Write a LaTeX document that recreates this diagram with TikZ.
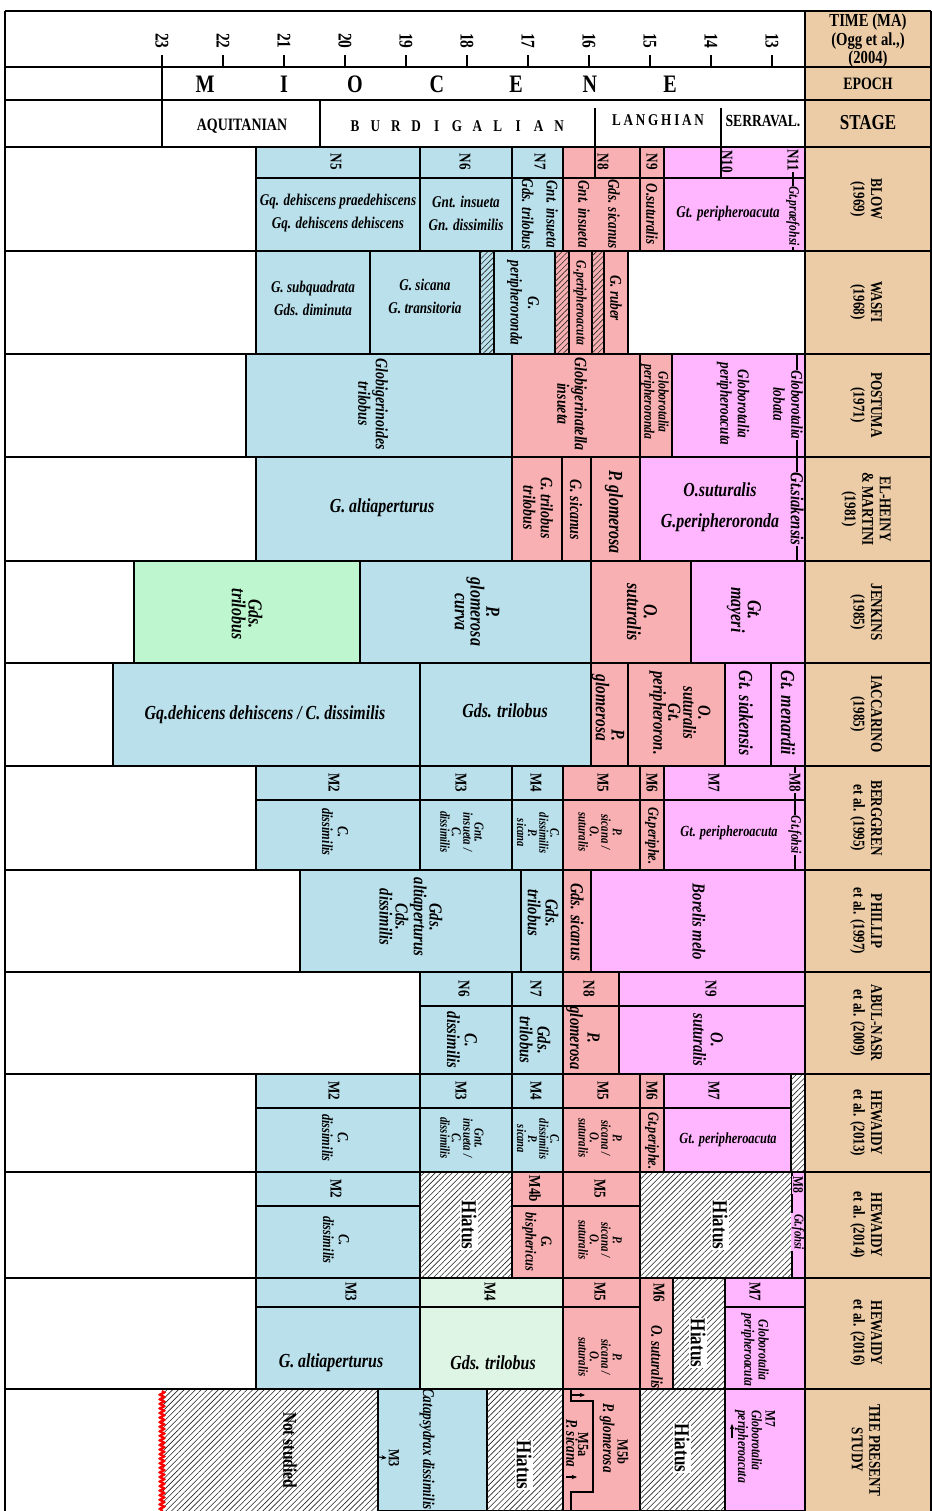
\documentclass[tikz,border=0pt]{standalone}
\usepackage{fontspec}
\setmainfont{Liberation Serif}[FakeStretch=0.8, Scale=1.1]
\usetikzlibrary{patterns.meta,decorations.pathmorphing,arrows.meta}

\definecolor{zblue}{RGB}{186,224,236}
\definecolor{zpink}{RGB}{248,176,178}
\definecolor{zmag}{RGB}{255,182,255}
\definecolor{zgreen}{RGB}{190,247,207}
\definecolor{zpale}{RGB}{222,244,228}
\definecolor{ztan}{RGB}{236,204,166}

\tikzset{
  cell/.style={draw=black, line width=0.8pt},
  hatch/.style={postaction={pattern={Lines[angle=45,distance=2.3pt,line width=0.35pt]}, pattern color=black!85}},
  sp/.style={font=\bfseries\itshape\fontsize{8.5}{10}\selectfont, align=center, inner sep=1pt},
  vsp/.style={sp, rotate=-90},
  big/.style={font=\bfseries\itshape\fontsize{10.3}{12}\selectfont, align=center, inner sep=1pt},
  vbig/.style={big, rotate=-90},
  sml/.style={font=\bfseries\itshape\fontsize{7.5}{8}\selectfont, align=center, inner sep=1pt},
  vsml/.style={sml, rotate=-90},
  zone/.style={font=\bfseries\fontsize{8.5}{9}\selectfont, rotate=-90, inner sep=1pt},
  hiatus/.style={font=\bfseries\fontsize{11}{12}\selectfont, rotate=-90, fill=white, inner sep=0.6pt},
  reflbl/.style={font=\bfseries\fontsize{8.5}{10}\selectfont, rotate=-90, align=center},
  head/.style={font=\bfseries\fontsize{9.5}{9.5}\selectfont, align=center},
  ticknum/.style={font=\bfseries\fontsize{10}{10}\selectfont, rotate=-90},
  epochltr/.style={font=\bfseries\fontsize{13}{13}\selectfont},
  stagelbl/.style={font=\bfseries\fontsize{8.5}{9}\selectfont},
  onmark/.style={fill=zmag, inner sep=0.4pt},
  arr/.style={-{Stealth[length=3pt,width=2.5pt]}, line width=0.6pt},
}

\begin{document}
\begin{tikzpicture}[x=0.02cm, y=-0.02cm]
\useasboundingbox (0,0) rectangle (932,1511);
\fill[ztan] (805,11) rectangle (931,1511);

% time scale, epoch, stage
\foreach \t [evaluate=\t as \xx using {162+(23-\t)*61}] in {23,22,...,13}{
  \draw[cell] (\xx,55) -- (\xx,67);
  \node[ticknum] (t\t) at (\xx,41) {\t};
}
\draw[cell] (162,55) -- (162,147);
\foreach \l/\xx [count=\i] in {M/205,I/284,O/355,C/437,E/516,N/590,E/670}
  \node[epochltr] (ep\i) at (\xx,84) {\l};
\draw[cell] (320,100) -- (320,147);
\draw[cell] (595,108) -- (595,147);
\draw[cell] (721,108) -- (721,147);
\node[stagelbl, font=\bfseries\fontsize{9}{9}\selectfont] (aqui) at (242,126) {AQUITANIAN};
\foreach \l [count=\i] in {B,U,R,D,I,G,A,L,I,A,N}
  \node[stagelbl] (bur\i) at ({355+(\i-1)*20.4},126) {\l};
\node[stagelbl] (lang) at (658,120) {L\kern1.6pt A\kern1.6pt N\kern1.6pt G\kern1.6pt H\kern1.6pt I\kern1.6pt A\kern1.6pt N};
\node[stagelbl, font=\bfseries\fontsize{8.8}{9}\selectfont] (serr) at (763,121) {SERRAVAL.};

% BLOW (1969)
\draw[cell,fill=zblue] (256,147) rectangle (420,178);
\draw[cell,fill=zblue] (420,147) rectangle (512,178);
\draw[cell,fill=zblue] (512,147) rectangle (563,178);
\draw[cell,fill=zpink] (563,147) rectangle (595,178);
\draw[cell,fill=zpink] (595,147) rectangle (640,178);
\draw[cell,fill=zpink] (640,147) rectangle (664,178);
\draw[cell,fill=zmag] (664,147) rectangle (721,178);
\draw[cell,fill=zmag] (721,147) rectangle (805,178);
\draw[cell,fill=zblue] (256,178) rectangle (420,251);
\draw[cell,fill=zblue] (420,178) rectangle (512,251);
\draw[cell,fill=zblue] (512,178) rectangle (563,251);
\draw[cell,fill=zpink] (563,178) rectangle (640,251);
\draw[cell,fill=zpink] (640,178) rectangle (664,251);
\draw[cell,fill=zmag] (664,178) rectangle (805,251);
\draw[cell] (793,147) -- (793,251);
\node[zone] (bn5) at (336,162) {N5};
\node[zone] (bn6) at (465,162) {N6};
\node[zone] (bn7) at (540,162) {N7};
\node[zone] (bn8) at (603,162) {N8};
\node[zone] (bn9) at (652,162) {N9};
\node[zone, anchor=west] (bn10) at (727,148) {N10};
\node[zone, onmark, anchor=west] (bn11) at (793,148) {N11};
\node[sp, font=\bfseries\itshape\fontsize{8.5}{13}\selectfont] (bdehi) at (338,213) {Gq. dehiscens praedehiscens\\Gq. dehiscens dehiscens};
\node[sp, font=\bfseries\itshape\fontsize{8.5}{13}\selectfont] (binsu) at (466,213) {Gnt. insueta\\Gn. dissimilis};
\node[vsp, font=\bfseries\itshape\fontsize{8.5}{14}\selectfont] (bn7sp) at (540,214) {Gnt. insueta\\Gds. trilobus};
\node[vsp] (bn8a) at (584,214) {Gnt. insueta};
\node[vsp] (bn8b) at (614,214) {Gds. sicanus};
\node[vsp] (bn9sp) at (652,214) {O.suturalis};
\node[sp] (bperi) at (728,214) {Gt. peripheroacuta};
\node[vsml, onmark] (bprae) at (793,216) {Gt.praefohsi};

% WASFI (1968)
\draw[cell,fill=zblue] (256,251) rectangle (370,354);
\draw[cell,fill=zblue] (370,251) rectangle (480,354);
\draw[cell,fill=zblue,hatch] (480,251) rectangle (494,354);
\draw[cell,fill=zblue] (494,251) rectangle (555,354);
\draw[cell,fill=zpink,hatch] (555,251) rectangle (569,354);
\draw[cell,fill=zpink] (569,251) rectangle (592,354);
\draw[cell,fill=zpink,hatch] (592,251) rectangle (604,354);
\draw[cell,fill=zpink] (604,251) rectangle (628,354);
\node[sp, font=\bfseries\itshape\fontsize{8.5}{13}\selectfont] (wsubq) at (313,298) {G. subquadrata\\Gds. diminuta};
\node[sp, font=\bfseries\itshape\fontsize{8.5}{13}\selectfont] (wsica) at (425,296) {G. sicana\\G. transitoria};
\node[vsp] (wrond) at (523,303) {G.\\peripheroronda};
\node[vsml] (wacut) at (580,303) {G.peripheroacuta};
\node[vsp] (wrube) at (616,298) {G. ruber};

% POSTUMA (1971)
\draw[cell,fill=zblue] (246,354) rectangle (512,457);
\draw[cell,fill=zpink] (512,354) rectangle (640,457);
\draw[cell,fill=zpink] (640,354) rectangle (672,457);
\draw[cell,fill=zmag] (672,354) rectangle (805,457);
\draw[cell] (797,354) -- (797,457);
\node[vsp, font=\bfseries\itshape\fontsize{9}{10}\selectfont] (pgtri) at (373,404) {Globigerinoides\\trilobus};
\node[vsp, font=\bfseries\itshape\fontsize{9}{10}\selectfont] (pgins) at (572,404) {Globigerinatella\\insueta};
\node[vsml] (prond) at (655,402) {Globorotalia\\peripheroronda};
\node[vsp] (pacut) at (733,404) {Globorotalia\\peripheroacuta};
\node[vsp] (plob) at (779,404) {lobata};
\node[vsp, onmark] (pglob) at (797,405) {Globorotalia};

% EL-HEINY & MARTINI (1981)
\draw[cell,fill=zblue] (256,457) rectangle (512,561);
\draw[cell,fill=zpink] (512,457) rectangle (562,561);
\draw[cell,fill=zpink] (562,457) rectangle (591,561);
\draw[cell,fill=zpink] (591,457) rectangle (640,561);
\draw[cell,fill=zmag] (640,457) rectangle (805,561);
\draw[cell] (797,457) -- (797,561);
\node[big] (ealti) at (382,508) {G. altiaperturus};
\node[vsp, font=\bfseries\itshape\fontsize{9}{10}\selectfont] (etrtr) at (538,508) {G. trilobus\\trilobus};
\node[vsp, font=\bfseries\itshape\fontsize{9}{10}\selectfont] (esica) at (576,510) {G. sicanus};
\node[vbig] (eglom) at (614,512) {P. glomerosa};
\node[big, font=\bfseries\itshape\fontsize{10.3}{17.5}\selectfont] (esutu) at (720,507) {O.suturalis\\G.peripheroronda};
\node[vsp, onmark, font=\bfseries\itshape\fontsize{9.5}{10}\selectfont] (esiak) at (797,509) {Gt.siakensis};

% JENKINS (1985)
\draw[cell,fill=zgreen] (134,561) rectangle (360,663);
\draw[cell,fill=zblue] (360,561) rectangle (591,663);
\draw[cell,fill=zpink] (591,561) rectangle (691,663);
\draw[cell,fill=zmag] (691,561) rectangle (805,663);
\node[vbig, font=\bfseries\itshape\fontsize{10.3}{9.5}\selectfont] (jtril) at (247,614) {Gds.\\trilobus};
\node[vbig, font=\bfseries\itshape\fontsize{10.3}{9}\selectfont] (jglom) at (477,612) {P.\\glomerosa\\curva};
\node[vbig, font=\bfseries\itshape\fontsize{10.3}{9.5}\selectfont] (jsutu) at (642,612) {O.\\suturalis};
\node[vbig, font=\bfseries\itshape\fontsize{10.3}{9.5}\selectfont] (jmaye) at (744,610) {Gt.\\mayeri};

% IACCARINO (1985)
\draw[cell,fill=zblue] (113,663) rectangle (420,766);
\draw[cell,fill=zblue] (420,663) rectangle (591,766);
\draw[cell,fill=zpink] (591,663) rectangle (628,766);
\draw[cell,fill=zpink] (628,663) rectangle (725,766);
\draw[cell,fill=zmag] (725,663) rectangle (771,766);
\draw[cell,fill=zmag] (771,663) rectangle (805,766);
\node[big] (idehi) at (265,715) {Gq.dehicens dehiscens / C. dissimilis};
\node[big] (itril) at (505,711) {Gds. trilobus};
\node[vbig, align=right, font=\bfseries\itshape\fontsize{10}{9}\selectfont] (iglom) at (608,708) {P.\\glomerosa};
\node[vbig, font=\bfseries\itshape\fontsize{9.5}{8.5}\selectfont] (isutu) at (680,713) {O.\\suturalis\\Gt.\\peripheroron.};
\node[vbig] (isiak) at (746,713) {Gt. siakensis};
\node[vbig] (imena) at (788,713) {Gt. menardii};

% BERGGREN et al. (1995)
\draw[cell,fill=zblue] (256,766) rectangle (420,800);
\draw[cell,fill=zblue] (420,766) rectangle (512,800);
\draw[cell,fill=zblue] (512,766) rectangle (563,800);
\draw[cell,fill=zpink] (563,766) rectangle (640,800);
\draw[cell,fill=zpink] (640,766) rectangle (664,800);
\draw[cell,fill=zmag] (664,766) rectangle (805,800);
\draw[cell,fill=zblue] (256,800) rectangle (420,870);
\draw[cell,fill=zblue] (420,800) rectangle (512,870);
\draw[cell,fill=zblue] (512,800) rectangle (563,870);
\draw[cell,fill=zpink] (563,800) rectangle (640,870);
\draw[cell,fill=zpink] (640,800) rectangle (664,870);
\draw[cell,fill=zmag] (664,800) rectangle (805,870);
\draw[cell] (795,766) -- (795,870);
\node[zone] (bm2) at (334,783) {M2};
\node[zone] (bm3) at (461,783) {M3};
\node[zone] (bm4) at (536,783) {M4};
\node[zone] (bm5) at (603,783) {M5};
\node[zone] (bm6) at (652,783) {M6};
\node[zone] (bm7) at (714,783) {M7};
\node[zone, onmark] (bm8) at (795,783) {M8};
\node[vsml, font=\bfseries\itshape\fontsize{8}{9}\selectfont] (bc2) at (335,832) {C.\\dissimilis};
\node[vsml, font=\bfseries\itshape\fontsize{7}{6.5}\selectfont] (bc3) at (462,832) {Gnt.\\insueta /\\C.\\dissimilis};
\node[vsml, font=\bfseries\itshape\fontsize{6.8}{6.3}\selectfont] (bc4) at (538,833) {C.\\dissimilis\\P.\\sicana};
\node[vsml, font=\bfseries\itshape\fontsize{7}{6.5}\selectfont] (bc5) at (600,832) {P.\\sicana /\\O.\\suturalis};
\node[vsml, font=\bfseries\itshape\fontsize{8}{9}\selectfont] (bc6) at (652,836) {Gt.periphe.};
\node[sp, font=\bfseries\itshape\fontsize{8}{9}\selectfont] (bc7) at (729,833) {Gt. peripheroacuta};
\node[vsml, onmark] (bfoh) at (795,835) {Gt.fohsi};

% PHILLIP et al. (1997)
\draw[cell,fill=zblue] (300,870) rectangle (521,972);
\draw[cell,fill=zblue] (521,870) rectangle (563,972);
\draw[cell,fill=zpink] (563,870) rectangle (591,972);
\draw[cell,fill=zmag] (591,870) rectangle (805,972);
\node[vsp, font=\bfseries\itshape\fontsize{9.5}{9}\selectfont] (palti) at (411,917) {Gds.\\altiaperturus\\Cds.\\dissimilis};
\node[vsp, font=\bfseries\itshape\fontsize{9.5}{10}\selectfont] (ptril) at (543,913) {Gds.\\trilobus};
\node[vsp, font=\bfseries\itshape\fontsize{9.5}{10}\selectfont] (psica) at (577,922) {Gds. sicanus};
\node[vsp, font=\bfseries\itshape\fontsize{9.5}{10}\selectfont] (pbore) at (699,922) {Borelis melo};

% ABUL-NASR et al. (2009)
\draw[cell,fill=zblue] (420,972) rectangle (512,1006);
\draw[cell,fill=zblue] (512,972) rectangle (563,1006);
\draw[cell,fill=zpink] (563,972) rectangle (619,1006);
\draw[cell,fill=zmag] (619,972) rectangle (805,1006);
\draw[cell,fill=zblue] (420,1006) rectangle (512,1074);
\draw[cell,fill=zblue] (512,1006) rectangle (563,1074);
\draw[cell,fill=zpink] (563,1006) rectangle (619,1074);
\draw[cell,fill=zmag] (619,1006) rectangle (805,1074);
\node[zone] (an6) at (464,989) {N6};
\node[zone] (an7) at (536,989) {N7};
\node[zone] (an8) at (589,989) {N8};
\node[zone] (an9) at (711,989) {N9};
\node[vsp, font=\bfseries\itshape\fontsize{9.5}{10}\selectfont] (adiss) at (462,1040) {C.\\dissimilis};
\node[vsp, font=\bfseries\itshape\fontsize{9.5}{10}\selectfont] (atril) at (535,1040) {Gds.\\trilobus};
\node[vsp, font=\bfseries\itshape\fontsize{9.5}{10}\selectfont] (aglom) at (583,1038) {P.\\glomerosa};
\node[vsp, font=\bfseries\itshape\fontsize{9.5}{10}\selectfont] (asutu) at (708,1040) {O.\\suturalis};

% HEWAIDY et al. (2013)
\draw[cell,fill=zblue] (256,1074) rectangle (420,1108);
\draw[cell,fill=zblue] (420,1074) rectangle (512,1108);
\draw[cell,fill=zblue] (512,1074) rectangle (563,1108);
\draw[cell,fill=zpink] (563,1074) rectangle (640,1108);
\draw[cell,fill=zpink] (640,1074) rectangle (664,1108);
\draw[cell,fill=zmag] (664,1074) rectangle (791,1108);
\draw[cell,fill=zblue] (256,1108) rectangle (420,1172);
\draw[cell,fill=zblue] (420,1108) rectangle (512,1172);
\draw[cell,fill=zblue] (512,1108) rectangle (563,1172);
\draw[cell,fill=zpink] (563,1108) rectangle (640,1172);
\draw[cell,fill=zpink] (640,1108) rectangle (664,1172);
\draw[cell,fill=zmag] (664,1108) rectangle (791,1172);
\draw[cell,fill=white,hatch] (791,1074) rectangle (805,1172);
\node[zone] (hm2) at (334,1091) {M2};
\node[zone] (hm3) at (461,1091) {M3};
\node[zone] (hm4) at (536,1091) {M4};
\node[zone] (hm5) at (603,1091) {M5};
\node[zone] (hm6) at (652,1091) {M6};
\node[zone] (hm7) at (714,1091) {M7};
\node[vsml, font=\bfseries\itshape\fontsize{8}{9}\selectfont] (hc2) at (335,1138) {C.\\dissimilis};
\node[vsml, font=\bfseries\itshape\fontsize{7}{6.5}\selectfont] (hc3) at (462,1138) {Gnt.\\insueta /\\C.\\dissimilis};
\node[vsml, font=\bfseries\itshape\fontsize{6.8}{6.3}\selectfont] (hc4) at (538,1139) {C.\\dissimilis\\P.\\sicana};
\node[vsml, font=\bfseries\itshape\fontsize{7}{6.5}\selectfont] (hc5) at (600,1138) {P.\\sicana /\\O.\\suturalis};
\node[vsml, font=\bfseries\itshape\fontsize{8}{9}\selectfont] (hc6) at (652,1141) {Gt.periphe.};
\node[sp, font=\bfseries\itshape\fontsize{8}{9}\selectfont] (hc7) at (728,1140) {Gt. peripheroacuta};

% HEWAIDY et al. (2014)
\draw[cell,fill=zblue] (256,1172) rectangle (420,1206);
\draw[cell,fill=zblue] (256,1206) rectangle (420,1278);
\draw[cell,fill=white,hatch] (420,1172) rectangle (512,1278);
\draw[cell,fill=zpink] (512,1172) rectangle (563,1206);
\draw[cell,fill=zpink] (512,1206) rectangle (563,1278);
\draw[cell,fill=zpink] (563,1172) rectangle (640,1206);
\draw[cell,fill=zpink] (563,1206) rectangle (640,1278);
\draw[cell,fill=white,hatch] (640,1172) rectangle (792,1278);
\draw[cell,fill=zmag] (792,1172) rectangle (805,1278);
\node[zone] (km2) at (336,1189) {M2};
\node[zone] (km4b) at (535,1189) {M4b};
\node[zone] (km5) at (600,1189) {M5};
\node[zone, onmark, font=\bfseries\fontsize{7.5}{8}\selectfont] (km8) at (798,1185) {M8};
\node[vsml, font=\bfseries\itshape\fontsize{8}{9}\selectfont] (kc2) at (336,1240) {C.\\dissimilis};
\node[hiatus] (khia1) at (469,1225) {Hiatus};
\node[vsml, font=\bfseries\itshape\fontsize{8}{9}\selectfont] (kbisp) at (537,1242) {G.\\bisphericus};
\node[vsml, font=\bfseries\itshape\fontsize{7}{6.5}\selectfont] (kc5) at (600,1240) {P.\\sicana /\\O.\\suturalis};
\node[hiatus] (khia2) at (720,1225) {Hiatus};
\node[vsml, onmark, font=\bfseries\itshape\fontsize{7}{8}\selectfont] (kfoh) at (798,1232) {Gt.fohsi};

% HEWAIDY et al. (2016)
\draw[cell,fill=zblue] (256,1278) rectangle (420,1307);
\draw[cell,fill=zblue] (256,1307) rectangle (420,1389);
\draw[cell,fill=zpale] (420,1278) rectangle (563,1307);
\draw[cell,fill=zpale] (420,1307) rectangle (563,1389);
\draw[cell,fill=zpink] (563,1278) rectangle (640,1307);
\draw[cell,fill=zpink] (563,1307) rectangle (640,1389);
\draw[cell,fill=zpink] (640,1278) rectangle (673,1389);
\draw[cell,fill=white,hatch] (673,1278) rectangle (725,1389);
\draw[cell,fill=zmag] (725,1278) rectangle (805,1307);
\draw[cell,fill=zmag] (725,1307) rectangle (805,1389);
\node[zone] (sm3) at (351,1292) {M3};
\node[zone] (sm4) at (490,1292) {M4};
\node[zone] (sm5) at (600,1292) {M5};
\node[zone] (sm6) at (659,1293) {M6};
\node[zone] (sm7) at (755,1292) {M7};
\node[big] (salti) at (331,1363) {G. altiaperturus};
\node[big] (stril) at (493,1363) {Gds. trilobus};
\node[vsml, font=\bfseries\itshape\fontsize{7}{6.5}\selectfont] (sc5) at (600,1357) {P.\\sicana /\\O.\\suturalis};
\node[vsp] (ssutu) at (657,1357) {O. suturalis};
\node[hiatus] (shia) at (698,1343) {Hiatus};
\node[vsml] (speri) at (755,1350) {Globorotalia\\peripheroacuta};

% THE PRESENT STUDY
\path[fill=white,hatch] (162,1389) rectangle (378,1511);
\draw[cell,fill=zblue] (378,1389) rectangle (487,1511);
\draw[cell,fill=white,hatch] (487,1389) rectangle (563,1511);
\draw[cell,fill=zpink] (563,1389) rectangle (640,1511);
\draw[cell,fill=white,hatch] (640,1389) rectangle (725,1511);
\draw[cell,fill=zmag] (725,1389) rectangle (805,1511);
\draw[red, line width=1.2pt, decorate, decoration={snake, segment length=2.6pt, amplitude=1.3pt}] (162,1391) -- (162,1511);
\draw[cell] (571,1389) -- (571,1401) -- (593,1401) -- (593,1492) -- (571,1492) -- (571,1511);
\node[font=\bfseries\fontsize{10}{10}\selectfont, rotate=-90] (nstud) at (290,1450) {Not studied};
\node[vsp, font=\bfseries\itshape\fontsize{8.5}{9}\selectfont] (pcata) at (427,1449) {Catapsydrax dissimilis};
\node[zone, font=\bfseries\fontsize{8}{8}\selectfont] (pm3) at (394,1458) {M3};
\draw[arr] (379,1457) -- (pm3.south);
\node[hiatus] (phia1) at (524,1465) {Hiatus};
\node[zone, font=\bfseries\fontsize{8}{8}\selectfont] (pm5b) at (623,1452) {M5b};
\node[vsp, font=\bfseries\itshape\fontsize{8.5}{9}\selectfont] (pglom) at (607,1438) {P. glomerosa};
\node[zone, font=\bfseries\fontsize{8}{8}\selectfont] (pm5a) at (583,1445) {M5a};
\node[vsp, font=\bfseries\itshape\fontsize{8.5}{9}\selectfont] (psica2) at (572,1443) {P. sicana};
\coordinate (m5bfrom) at (571,1395);
\coordinate (m5bto) at (585,1395);
\coordinate (m5afrom) at (566,1477);
\coordinate (m5ato) at (577,1477);
\draw[arr] (m5bfrom) -- (m5bto);
\draw[arr] (m5afrom) -- (m5ato);
\node[hiatus] (phia2) at (682,1448) {Hiatus};
\node[vsml, anchor=west, align=left, font=\bfseries\itshape\fontsize{7.5}{7.8}\selectfont] (pm7) at (755,1408) {\textup{M7}\\Globorotalia\\peripheroacuta};
\coordinate (m7from) at (732,1438);
\coordinate (m7to) at (732,1424);
\draw[arr] (m7from) -- (m7to);

% reference column
\node[head, font=\bfseries\fontsize{9.5}{9.2}\selectfont] (htime) at (868,41) {TIME (MA)\\(Ogg et al.,)\\(2004)};
\node[head, font=\bfseries\fontsize{9}{9}\selectfont] (hepoch) at (868,84) {EPOCH};
\node[head, font=\bfseries\fontsize{11}{11}\selectfont] (hstage) at (868,123) {STAGE};
\node[reflbl] (rblow) at (866,199) {BLOW\\(1969)};
\node[reflbl] (rwasf) at (866,302) {WASFI\\(1968)};
\node[reflbl] (rpost) at (866,405) {POSTUMA\\(1971)};
\node[reflbl] (relhe) at (866,509) {EL-HEINY\\\& MARTINI\\(1981)};
\node[reflbl] (rjenk) at (866,612) {JENKINS\\(1985)};
\node[reflbl] (riacc) at (866,714) {IACCARINO\\(1985)};
\node[reflbl] (rberg) at (866,818) {BERGGREN\\et al. (1995)};
\node[reflbl] (rphil) at (866,921) {PHILLIP\\et al. (1997)};
\node[reflbl] (rabul) at (866,1023) {ABUL-NASR\\et al. (2009)};
\node[reflbl] (rhe13) at (866,1123) {HEWAIDY\\et al. (2013)};
\node[reflbl] (rhe14) at (866,1225) {HEWAIDY\\et al. (2014)};
\node[reflbl] (rhe16) at (866,1333) {HEWAIDY\\et al. (2016)};
\node[reflbl] (rpres) at (866,1450) {THE PRESENT\\STUDY};

% frame and row lines
\foreach \yy in {11,67,100,147,251,354,457,561,663,766,870,972,1074,1172,1278,1389}
  \draw[line width=1pt] (5,\yy) -- (931,\yy);
\draw[line width=1pt] (5,11) -- (5,1511);
\draw[line width=1pt] (805,11) -- (805,1511);
\draw[line width=1pt] (931,11) -- (931,1511);
\end{tikzpicture}
\end{document}
